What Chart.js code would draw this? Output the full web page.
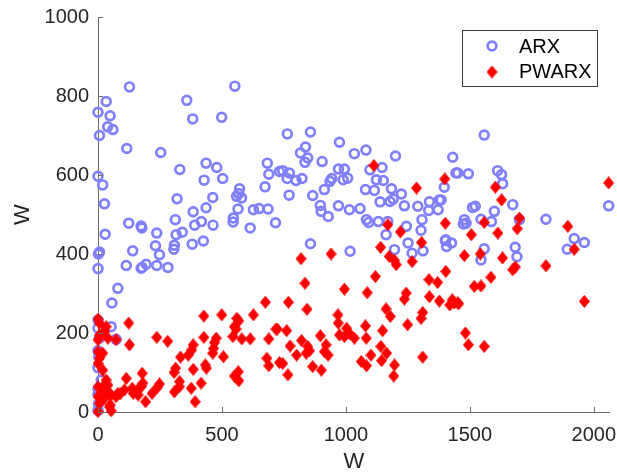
<!DOCTYPE html>
<html>
<head>
<meta charset="utf-8">
<title>ARX vs PWARX</title>
<script src="https://cdn.jsdelivr.net/npm/chart.js@4.4.1/dist/chart.umd.min.js"></script>
<style>
    html, body { margin: 0; padding: 0; background: #fff; }
    #scatterChart { display: block; }
</style>
</head>
<body>
<canvas id="scatterChart" width="617" height="476"></canvas>
<script>
// ARX estimates
const arxX = [127, 33, 0, 49, 39, 60, 6, 116, 0, 19, 26, 124, 174, 177, 29, 6, 2, 140, 0, 114, 174, 194, 80,
    253, 358, 382, 499, 552, 436, 479, 503, 428, 330, 683, 689, 732, 674, 571, 559, 579, 568, 463, 319, 436, 384,
    565, 627, 686, 417, 390, 312, 464, 546, 545, 614, 716, 237, 315, 340, 232, 308, 306, 380, 425, 248,
    178, 237, 282, 56, 0, 53, 73, 0, 6, 0, 3, 0, 13, 0, 0, 2, 0,
    764, 857, 837, 817, 846, 835, 974, 1034, 1081, 1200, 1431, 745, 772, 763, 799, 823, 904, 771, 866, 913, 936,
    943, 970, 994, 989, 1007, 897, 900, 929, 970, 1014, 1057, 1097, 1146, 1123, 1151, 1079, 1115, 1184, 1224,
    1138, 1178, 1191, 1236, 1290, 1337, 1377, 1334, 1372, 1397, 1444, 1083, 1092, 1131, 1169, 1244, 1307, 1303,
    1162, 857, 1017, 1196, 1251, 1311, 1267, 1401, 1426, 1406,
    1558, 1451, 1494, 1612, 1628, 1632, 1384, 1511, 1522, 1673, 1599, 1478, 1485, 1474, 1545, 1587, 1700, 1807,
    2060, 1403, 1558, 1683, 1690, 1921, 1962, 1893, 1545, 650];
const arxY = [823, 786, 759, 750, 722, 715, 700, 667, 597, 575, 527, 478, 471, 466, 450, 405, 400, 408, 363, 371, 364, 374, 313,
    657, 789, 742, 746, 825, 630, 619, 591, 587, 614, 630, 602, 609, 570, 565, 546, 542, 553, 543, 540, 517, 507,
    514, 512, 514, 482, 473, 487, 473, 491, 481, 466, 479, 453, 449, 455, 421, 422, 412, 425, 433, 398,
    366, 371, 366, 276, 233, 216, 184, 212, 187, 155, 140, 112, 81, 58, 45, 20, 4,
    704, 709, 671, 656, 643, 632, 683, 654, 663, 648, 645, 611, 605, 591, 586, 591, 634, 549, 548, 563, 584,
    591, 615, 615, 588, 592, 523, 508, 495, 522, 512, 515, 613, 619, 588, 586, 563, 561, 565, 552,
    532, 533, 539, 522, 521, 532, 537, 510, 512, 569, 605, 487, 480, 482, 482, 470, 487, 460,
    449, 426, 407, 411, 428, 408, 402, 434, 428, 419,
    701, 605, 603, 611, 601, 578, 537, 518, 521, 525, 508, 487, 478, 476, 488, 482, 487, 488,
    522, 436, 413, 417, 393, 439, 429, 412, 385, 515];

// PWARX estimates
const pwarxX = [675, 427, 499, 627, 560, 568, 550, 557, 124, 718, 237, 281, 427, 477, 470, 466, 544, 580, 614, 689,
    127, 384, 378, 364, 333, 506, 463, 681, 689, 732, 433, 437, 313, 307, 384, 566, 550, 568, 178, 114, 329, 328,
    416, 138, 174, 142, 248, 239, 218, 308, 376, 192, 392, 89, 73, 53, 49, 53, 26, 33,
    0, 6, 33, 26, 73, 40, 6, 0, 0, 19, 6, 0, 19, 0, 19, 40, 46, 80, 107, 160, 181, 162, 26, 0, 6, 0, 46,
    1140, 1305, 1175, 1196, 1203, 1267, 819, 940, 1403, 1119, 1335, 1370, 835, 994, 1086, 1243, 1236, 1337, 1377,
    1429, 1419, 1451, 768, 843, 1162, 1179, 1310, 1303, 968, 969, 974, 1003, 1014, 1034, 994, 1249, 723, 761,
    1079, 1082, 1148, 897, 920, 913, 928, 775, 821, 801, 846, 853, 840, 745, 766, 866, 901, 1062, 1083, 1101,
    1141, 1164, 1144, 1196, 1193, 1310,
    1113, 1399, 1285, 1169, 1220, 1401, 1603, 1628, 2060, 1558, 1700, 1691, 1506, 1613, 1895, 1921, 1478, 1542,
    1632, 1807, 1683, 1673, 1585, 1518, 1545, 1437, 1455, 1962, 1482, 1494, 1558];
const pwarxY = [278, 243, 246, 246, 237, 231, 216, 210, 225, 210, 189, 179, 189, 187, 176, 161, 191, 185, 185, 185,
    170, 170, 157, 144, 139, 140, 149, 136, 117, 125, 119, 111, 111, 100, 108, 102, 91, 79, 98, 85, 77, 64,
    73, 60, 64, 47, 71, 62, 47, 51, 60, 26, 26, 46, 39, 43, 18, 3, 68, 81,
    235, 225, 216, 204, 183, 187, 195, 183, 153, 149, 136, 123, 106, 64, 56, 68, 47, 47, 56, 56, 73, 43, 35, 39, 22, 1, 13,
    417, 429, 394, 384, 373, 381, 388, 400, 356, 343, 335, 328, 326, 311, 302, 301, 286, 292, 281,
    284, 271, 276, 278, 260, 261, 242, 252, 237, 246, 225, 195, 212, 199, 187, 191, 221, 210, 206,
    218, 187, 206, 193, 170, 153, 144, 167, 181, 144, 166, 155, 149, 123, 94, 115, 106, 128, 117, 144,
    166, 149, 130, 119, 91, 139,
    624, 590, 567, 474, 456, 478, 569, 537, 580, 480, 491, 464, 449, 453, 470, 412, 396, 400,
    390, 370, 367, 360, 341, 318, 319, 276, 274, 280, 200, 170, 166];

const xTicks = [0, 500, 1000, 1500, 2000];
const yTicks = [0, 200, 400, 600, 800, 1000];
const xMax = 2065;

const arxColor = 'rgb(128, 128, 255)';
const pwarxColor = 'rgb(255, 0, 0)';
const axisColor = '#6e6e6e';
const textColor = '#262626';
const fontFamily = "'Liberation Sans', Arial, Helvetica, sans-serif";

// filled diamond a bit taller than wide
function makeDiamond(w, h, color) {
    const c = document.createElement('canvas');
    c.width = w;
    c.height = h;
    const g = c.getContext('2d');
    g.fillStyle = color;
    g.beginPath();
    g.moveTo(w / 2, 0);
    g.lineTo(w, h / 2);
    g.lineTo(w / 2, h);
    g.lineTo(0, h / 2);
    g.closePath();
    g.fill();
    return c;
}
const diamond = makeDiamond(11, 13, pwarxColor);

function toPoints(xs, ys) {
    return xs.map((x, i) => ({ x: x, y: ys[i] }));
}

// short tick marks pointing into the plot, plus the boxed legend
const axesExtras = {
    id: 'axesExtras',
    afterDraw(chart) {
        const ctx = chart.ctx;
        const area = chart.chartArea;
        const xs = chart.scales.x;
        const ys = chart.scales.y;
        ctx.save();
        ctx.strokeStyle = axisColor;
        ctx.lineWidth = 1;
        ctx.beginPath();
        xTicks.forEach(v => {
            const px = Math.round(xs.getPixelForValue(v)) + 0.5;
            ctx.moveTo(px, area.bottom);
            ctx.lineTo(px, area.bottom - 5);
        });
        yTicks.forEach(v => {
            const py = Math.round(ys.getPixelForValue(v)) + 0.5;
            ctx.moveTo(area.left, py);
            ctx.lineTo(area.left + 5, py);
        });
        ctx.stroke();

        // legend
        const lx = 462, ly = 30, lw = 135, lh = 56;
        ctx.fillStyle = '#fff';
        ctx.fillRect(lx, ly, lw, lh);
        ctx.strokeStyle = '#3a3a3a';
        ctx.strokeRect(lx + 0.5, ly + 0.5, lw, lh);

        ctx.strokeStyle = arxColor;
        ctx.lineWidth = 2.7;
        ctx.beginPath();
        ctx.arc(492, 46, 4.4, 0, Math.PI * 2);
        ctx.stroke();
        ctx.drawImage(diamond, 492 - diamond.width / 2, 72 - diamond.height / 2);

        ctx.fillStyle = '#000';
        ctx.font = '20px ' + fontFamily;
        ctx.textAlign = 'left';
        ctx.textBaseline = 'middle';
        ctx.fillText('ARX', 519, 47);
        ctx.fillText('PWARX', 519, 72);
        ctx.restore();
    }
};

const plainNumber = value => String(value);

const ctx = document.getElementById('scatterChart').getContext('2d');
const scatterChart = new Chart(ctx, {
    type: 'scatter',
    data: {
        datasets: [{
            label: 'ARX',
            data: toPoints(arxX, arxY),
            pointStyle: 'circle',
            pointRadius: 4.4,
            borderWidth: 2.7,
            borderColor: arxColor,
            backgroundColor: 'rgba(0, 0, 0, 0)',
            order: 2,
            clip: false
        }, {
            label: 'PWARX',
            data: toPoints(pwarxX, pwarxY),
            pointStyle: diamond,
            pointRadius: 6,
            borderWidth: 0,
            backgroundColor: pwarxColor,
            order: 1,
            clip: false
        }]
    },
    options: {
        responsive: false,
        animation: false,
        devicePixelRatio: 1,
        events: [],
        layout: { padding: { top: 17, right: 7, left: 0, bottom: 0 } },
        plugins: {
            legend: { display: false },
            tooltip: { enabled: false }
        },
        scales: {
            x: {
                type: 'linear',
                min: 0,
                max: xMax,
                afterBuildTicks: scale => { scale.ticks = xTicks.map(v => ({ value: v })); },
                afterFit: scale => {
                    scale.height = 64;
                    scale.paddingLeft = 0;
                    scale.paddingRight = 0;
                },
                grid: { display: false, drawTicks: false },
                border: { display: true, color: axisColor, width: 1 },
                ticks: {
                    padding: 11,
                    maxRotation: 0,
                    color: textColor,
                    callback: plainNumber,
                    font: { family: fontFamily, size: 20 }
                },
                title: {
                    display: true,
                    text: 'W',
                    color: textColor,
                    padding: { top: 0, bottom: 1 },
                    font: { family: fontFamily, size: 22 }
                }
            },
            y: {
                type: 'linear',
                min: 0,
                max: 1000,
                afterBuildTicks: scale => { scale.ticks = yTicks.map(v => ({ value: v })); },
                afterFit: scale => {
                    scale.width = 98;
                    scale.paddingTop = 0;
                    scale.paddingBottom = 0;
                },
                grid: { display: false, drawTicks: false },
                border: { display: true, color: axisColor, width: 1 },
                ticks: {
                    padding: 9,
                    color: textColor,
                    callback: plainNumber,
                    font: { family: fontFamily, size: 20 }
                },
                title: {
                    display: true,
                    text: 'W',
                    color: textColor,
                    padding: { top: 10, bottom: 0 },
                    font: { family: fontFamily, size: 22 }
                }
            }
        }
    },
    plugins: [axesExtras]
});
</script>
</body>
</html>
